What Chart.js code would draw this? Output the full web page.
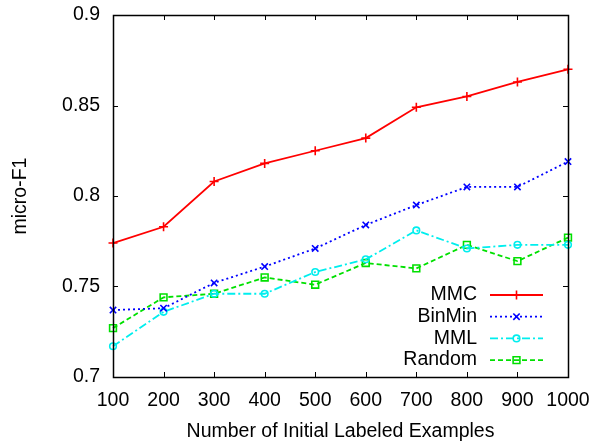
<!DOCTYPE html>
<html><head><meta charset="utf-8">
<script src="https://cdn.jsdelivr.net/npm/chart.js@4/dist/chart.umd.min.js"></script>
<style>html,body{margin:0;padding:0;background:#fff}#wrap{width:595px;height:441px}</style>
</head><body><div id="wrap"><canvas id="c" width="595" height="441"></canvas></div>
<script>
const categories = ["100","200","300","400","500","600","700","800","900","1000"];
const mmc    = [0.774,0.783,0.808,0.818,0.825,0.832,0.849,0.855,0.863,0.870];
const binmin = [0.737,0.738,0.752,0.761,0.771,0.784,0.795,0.805,0.805,0.819];
const mml    = [0.717,0.736,0.746,0.746,0.758,0.765,0.781,0.771,0.773,0.773];
const random = [0.727,0.744,0.746,0.755,0.751,0.763,0.760,0.773,0.764,0.777];
const yTickLabels = ["0.7","0.75","0.8","0.85","0.9"];
const seriesNames = ["MMC","BinMin","MML","Random"];

const FONT = "'Liberation Sans', Arial, sans-serif";

const frameAndTicks = {
  id:'frameAndTicks',
  afterDatasetsDraw(chart){
    const {ctx, chartArea:a, scales:{x,y}} = chart;
    ctx.save();
    ctx.strokeStyle = '#000'; ctx.lineWidth = 1;
    const L = 5;
    ctx.beginPath();
    y.ticks.forEach(t=>{
      const py = Math.round(y.getPixelForValue(t.value))+0.5;
      ctx.moveTo(a.left, py); ctx.lineTo(a.left+L, py);
      ctx.moveTo(a.right, py); ctx.lineTo(a.right-L, py);
    });
    categories.forEach((c,i)=>{
      const px = Math.round(x.getPixelForValue(i))+0.5;
      ctx.moveTo(px, a.bottom); ctx.lineTo(px, a.bottom-L);
      ctx.moveTo(px, a.top); ctx.lineTo(px, a.top+L);
    });
    ctx.stroke();
    ctx.lineWidth = 1.5;
    ctx.strokeRect(Math.round(a.left)+0.5, Math.round(a.top)+0.5, Math.round(a.right-a.left), Math.round(a.bottom-a.top));
    ctx.restore();
  }
};

const customLegend = {
  id:'customLegend',
  afterDraw(chart){
    const {ctx, chartArea:a} = chart;
    ctx.save();
    ctx.font = "19.5px " + FONT;
    ctx.textAlign = 'right'; ctx.textBaseline = 'middle';
    const textRight = a.right - 91;
    const lx0 = a.right - 78, lx1 = a.right - 25;
    const y0 = a.bottom - 82, dy = 21.7;
    chart.data.datasets.forEach((ds,i)=>{
      const yy = y0 + i*dy;
      ctx.fillStyle = '#000';
      ctx.fillText(ds.label, textRight, yy);
      ctx.strokeStyle = ds.borderColor; ctx.lineWidth = ds.borderWidth;
      ctx.setLineDash(ds.borderDash || []);
      ctx.beginPath(); ctx.moveTo(lx0, yy); ctx.lineTo(lx1, yy); ctx.stroke();
      ctx.setLineDash([]);
      ctx.fillStyle = 'rgba(0,0,0,0)';
      ctx.strokeStyle = ds.pointBorderColor; ctx.lineWidth = ds.pointBorderWidth;
      Chart.helpers.drawPoint(ctx, {pointStyle: ds.pointStyle, radius: ds.pointRadius, borderWidth: ds.pointBorderWidth, rotation:0}, (lx0+lx1)/2, yy);
    });
    ctx.restore();
  }
};

function ds(label, data, color, dash, style, r){
  return {label, data, borderColor:color, backgroundColor:'rgba(0,0,0,0)', pointBackgroundColor:'rgba(0,0,0,0)',
    pointBorderColor:color, borderWidth:1.8, borderDash:dash, pointStyle:style, pointRadius:r, pointBorderWidth:1.6,
    tension:0, fill:false};
}

new Chart(document.getElementById('c'), {
  type:'line',
  data:{labels:categories, datasets:[
    ds(seriesNames[0], mmc, '#ff0000', [], 'cross', 4.5),
    ds(seriesNames[1], binmin, '#0000ff', [2,3], 'crossRot', 4.5),
    ds(seriesNames[2], mml, '#00eeee', [8,3,2,3], 'circle', 3.3),
    ds(seriesNames[3], random, '#00e000', [5,3], 'rect', 4.8),
  ]},
  options:{
    responsive:false, animation:false, devicePixelRatio:1,
    layout:{padding:{left:0,right:27,top:15,bottom:0}},
    plugins:{legend:{display:false}, tooltip:{enabled:false}},
    scales:{
      x:{offset:false, grid:{display:false, drawTicks:true, tickLength:12}, border:{display:false},
        ticks:{color:'#000', font:{family:FONT,size:19.5}, padding:0, maxRotation:0, autoSkip:false},
        title:{display:true, text:'Number of Initial Labeled Examples', color:'#000', font:{family:FONT,size:19.5,lineHeight:1}, padding:{top:0,bottom:0}},
        afterFit(s){ s.height = 64; }},
      y:{min:0.7, max:0.9, grid:{display:false, drawTicks:true, tickLength:13}, border:{display:false},
        ticks:{stepSize:0.05, color:'#000', font:{family:FONT,size:19.5}, padding:0,
          callback:(v)=>{ const i = Math.round((v-0.7)/0.05); return yTickLabels[i]; }},
        title:{display:true, text:'micro-F1', color:'#000', font:{family:FONT,size:19.5}, padding:{top:9,bottom:0}},
        afterFit(s){ s.width = 113; }}
    }
  },
  plugins:[frameAndTicks, customLegend]
});
</script></body></html>
